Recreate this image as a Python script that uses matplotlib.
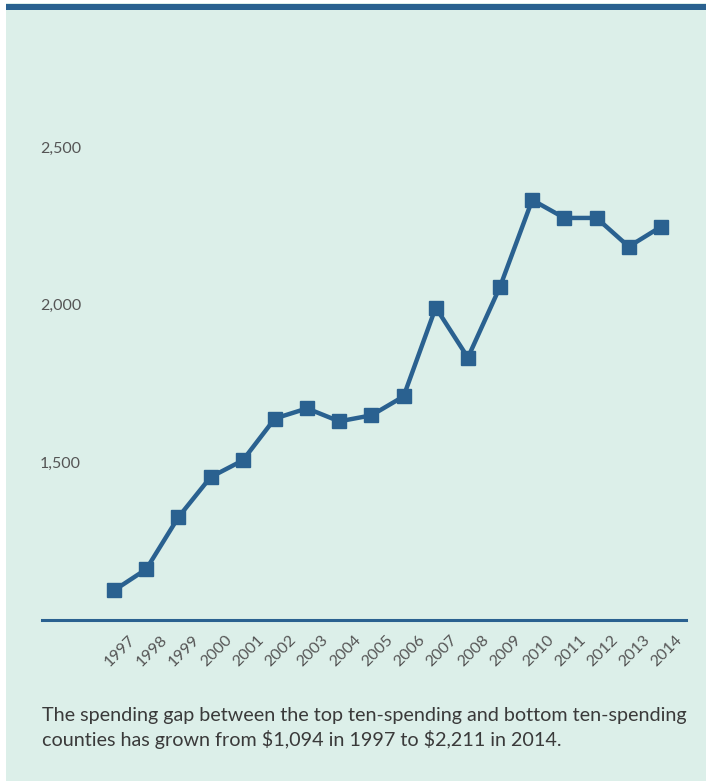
import matplotlib
matplotlib.use("Agg")
import matplotlib.pyplot as plt
import matplotlib.transforms as mtransforms
from matplotlib.patches import Rectangle

# spending gap between top-ten and bottom-ten spending counties ($)
years = [1997, 1998, 1999, 2000, 2001, 2002, 2003, 2004, 2005,
         2006, 2007, 2008, 2009, 2010, 2011, 2012, 2013, 2014]
gap = [1094, 1161, 1326, 1453, 1506, 1639, 1671, 1630, 1649,
       1709, 1991, 1832, 2057, 2332, 2275, 2275, 2184, 2247]
ytick_vals = [1500, 2000, 2500]
ytick_labels = ["1,500", "2,000", "2,500"]
caption = ("The spending gap between the top ten-spending and bottom ten-spending\n"
           "counties has grown from \\$1,094 in 1997 to \\$2,211 in 2014.")

BLUE = "#2a6190"
BG = "#dcefe9"
GREY = "#555555"

W, H = 706, 781
fig = plt.figure(figsize=(W / 100, H / 100), dpi=100)
fig.patch.set_facecolor("white")

# mint panel + dark top rule
fig.add_artist(Rectangle((6 / W, 0), 1 - 6 / W, 1 - 3 / H, transform=fig.transFigure,
                         facecolor=BG, edgecolor="none", zorder=0))
fig.add_artist(Rectangle((6 / W, 1 - 9.5 / H), 1 - 6 / W, 6 / H, transform=fig.transFigure,
                         facecolor=BLUE, edgecolor="none", zorder=1))

ax = fig.add_axes([42 / W, 1 - 620 / H, (686 - 42) / W, (620 - 147) / H])
ax.set_facecolor("none")
ax.plot(years, gap, color=BLUE, lw=3.2, marker="s", markersize=10,
        markerfacecolor=BLUE, markeredgecolor=BLUE, clip_on=False, zorder=3)

ax.set_xlim(1994.76, 2014.78)
ax.set_ylim(1000, 2500)

for s in ["top", "right", "left"]:
    ax.spines[s].set_visible(False)
ax.spines["bottom"].set_color(BLUE)
ax.spines["bottom"].set_linewidth(2.2)

ax.set_yticks(ytick_vals)
ax.set_yticklabels(ytick_labels, fontsize=11.5, color=GREY, family="Lato")
ax.tick_params(axis="y", length=0, pad=1.5)
for lab in ax.get_yticklabels():
    lab.set_horizontalalignment("left")

ax.set_xticks(years)
ax.set_xticklabels([str(y) for y in years], rotation=45, ha="center",
                   fontsize=11.5, color=GREY, family="Lato")
ax.tick_params(axis="x", length=0, pad=9)
shift = mtransforms.ScaledTranslation(6 / 100, 0, fig.dpi_scale_trans)
for lab in ax.get_xticklabels():
    lab.set_transform(lab.get_transform() + shift)

fig.text(42 / W, 1 - 707 / H, caption, ha="left", va="top", fontsize=14.2,
         color="#3a3a3a", family="Lato", linespacing=1.4)

fig.savefig("out.png", dpi=100, facecolor=fig.get_facecolor())
